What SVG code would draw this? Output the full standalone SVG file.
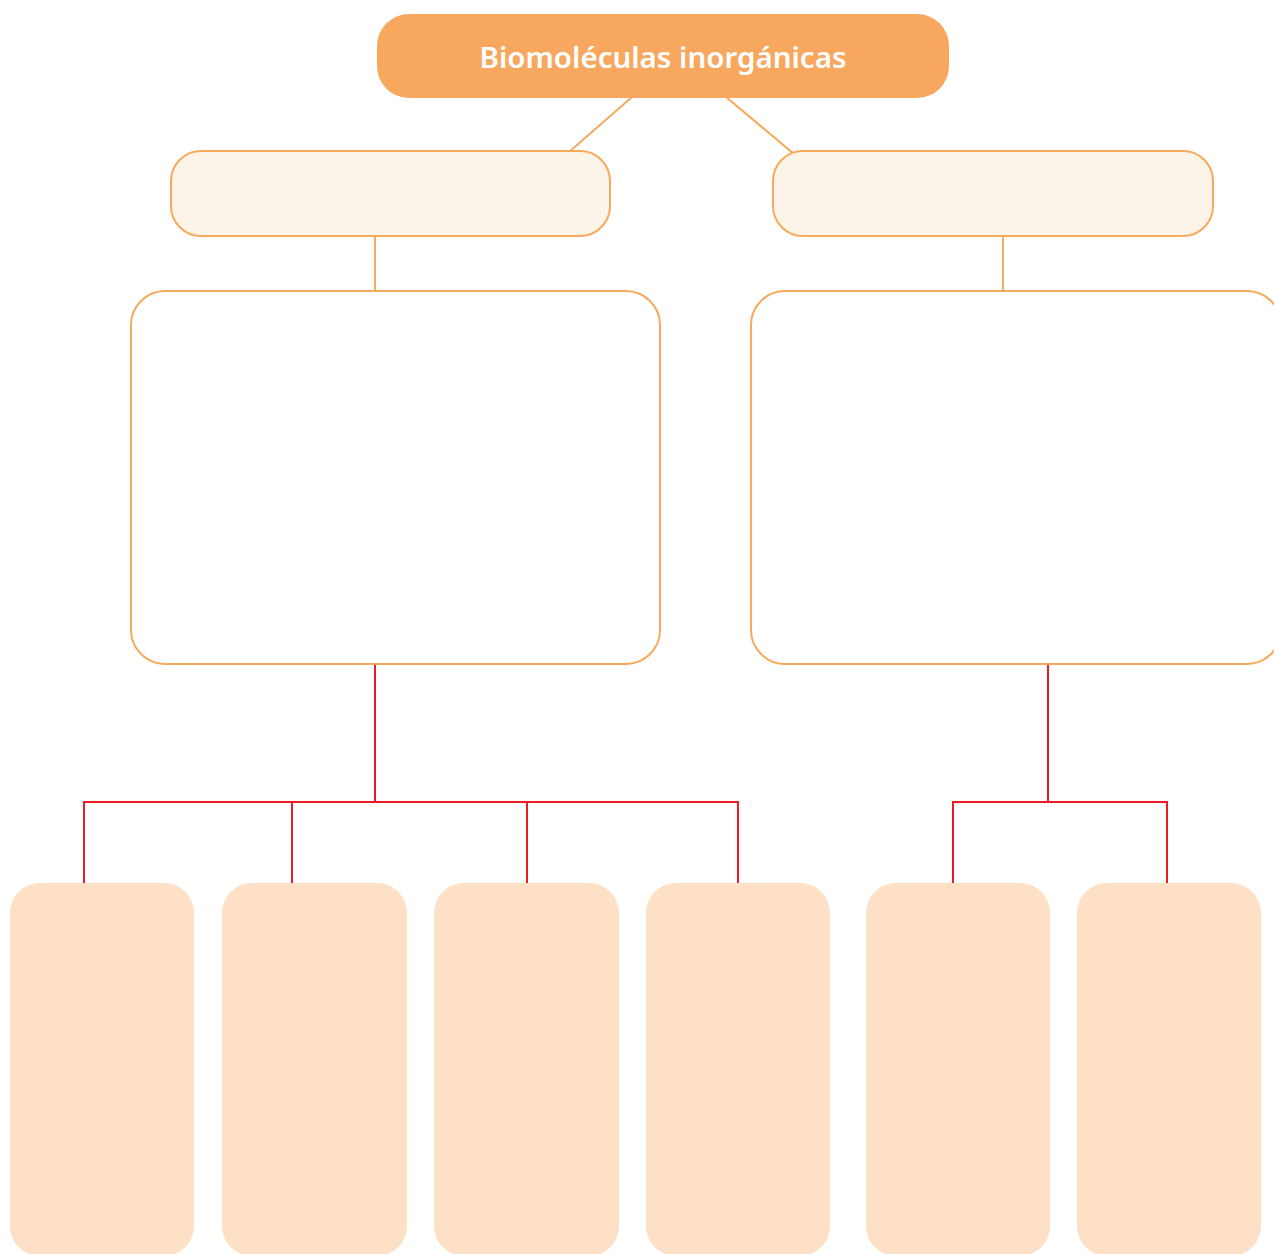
<svg xmlns="http://www.w3.org/2000/svg" width="1274" height="1254" viewBox="0 0 1274 1254">
<style>
.title{fill:#F8A85E;}
.lvl1{fill:#FDF4E9;stroke:#F7A95C;stroke-width:2;}
.lvl2{fill:#FFFFFF;stroke:#F7A95C;stroke-width:2;}
.leaf{fill:#FDE0C5;}
.co{stroke:#F7A95C;stroke-width:2;fill:none;}
.cr{stroke:#ED1C24;stroke-width:2;fill:none;}
.t{font-family:"Noto Sans","Open Sans","DejaVu Sans",sans-serif;font-weight:600;font-size:29.5px;fill:#FFFFFF;}
</style>
<rect width="1274" height="1254" fill="#FFFFFF"/>
<g id="connectors">
<line class="co" x1="632" y1="97" x2="569" y2="152"/>
<line class="co" x1="726" y1="97" x2="794" y2="154"/>
<line class="co" x1="375" y1="236" x2="375" y2="292"/>
<line class="co" x1="1003" y1="236" x2="1003" y2="292"/>
<polyline class="cr" points="375,664 375,802"/>
<polyline class="cr" points="84,883 84,802 738,802 738,883"/>
<line class="cr" x1="292" y1="802" x2="292" y2="883"/>
<line class="cr" x1="527" y1="802" x2="527" y2="883"/>
<polyline class="cr" points="1048,664 1048,802"/>
<polyline class="cr" points="953,883 953,802 1167,802 1167,883"/>
</g>
<g id="root">
<rect class="title" x="377" y="14" width="572" height="84" rx="32"/>
<text class="t" x="663" y="68" text-anchor="middle">Biomoléculas inorgánicas</text>
</g>
<g id="cat-left"><rect class="lvl1" x="171" y="151" width="439" height="85" rx="30"/></g>
<g id="cat-right"><rect class="lvl1" x="773" y="151" width="440" height="85" rx="30"/></g>
<g id="desc-left"><rect class="lvl2" x="131" y="291" width="529" height="373" rx="34"/></g>
<g id="desc-right"><rect class="lvl2" x="751" y="291" width="530" height="373" rx="34"/></g>
<g id="leaf1"><rect class="leaf" x="10" y="883" width="184" height="373" rx="30"/></g>
<g id="leaf2"><rect class="leaf" x="222" y="883" width="185" height="373" rx="30"/></g>
<g id="leaf3"><rect class="leaf" x="434" y="883" width="185" height="373" rx="30"/></g>
<g id="leaf4"><rect class="leaf" x="646" y="883" width="184" height="373" rx="30"/></g>
<g id="leaf5"><rect class="leaf" x="866" y="883" width="184" height="373" rx="30"/></g>
<g id="leaf6"><rect class="leaf" x="1077" y="883" width="184" height="373" rx="30"/></g>
</svg>
